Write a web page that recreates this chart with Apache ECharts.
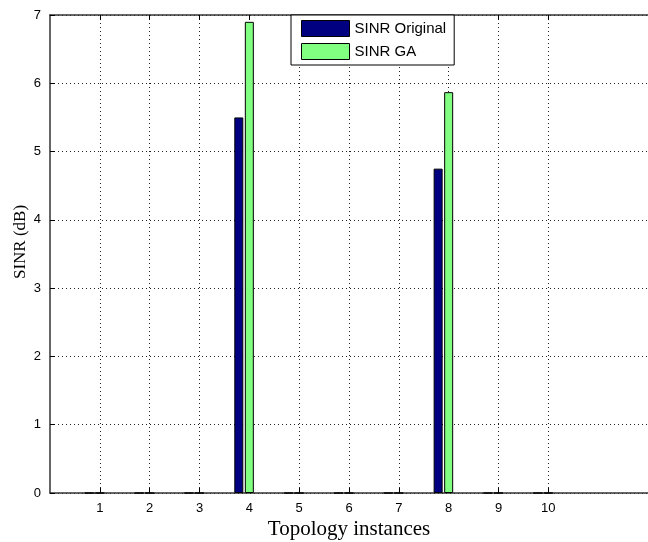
<!DOCTYPE html>
<html>
<head>
<meta charset="utf-8">
<title>SINR</title>
<script src="https://cdn.jsdelivr.net/npm/echarts@6/dist/echarts.min.js"></script>
<style>
  html, body { margin: 0; padding: 0; background: #fff; }
  #chart { width: 648px; height: 542px; }
</style>
</head>
<body>
<div id="chart"></div>
<script>
// data
const topology = [1, 2, 3, 4, 5, 6, 7, 8, 9, 10]
const sinrOriginal = [0, 0, 0, 5.5, 0, 0, 0, 4.75, 0, 0]
const sinrGA = [0, 0, 0, 6.9, 0, 0, 0, 5.87, 0, 0]
const yTicks = [0, 1, 2, 3, 4, 5, 6, 7]

const dotted = { type: [1, 3], color: '#222', width: 1 }
const tickFont = { fontFamily: 'Liberation Sans, Arial, sans-serif', fontSize: 13, color: '#000' }

function pairs(values) {
  return topology.map((t, i) => [t, values[i]])
}

function initChart() {
  const chartInstance = echarts.init(document.getElementById('chart'), null, { renderer: 'canvas' })
  const option = {
    animation: false,
    backgroundColor: '#fff',
    grid: { left: 50, right: 0, top: 15, bottom: 49 },
    legend: {
      data: ['SINR Original', 'SINR GA'],
      orient: 'vertical',
      left: 291,
      top: 15,
      padding: [5, 8, 5, 10],
      icon: 'rect',
      itemWidth: 48,
      itemHeight: 16,
      itemGap: 6,
      itemStyle: { borderColor: '#000', borderWidth: 1 },
      backgroundColor: '#fff',
      borderColor: '#000',
      borderWidth: 1,
      textStyle: { fontFamily: 'Liberation Sans, Arial, sans-serif', fontSize: 15, color: '#000' }
    },
    xAxis: [
      {
        type: 'value',
        position: 'bottom',
        min: 0,
        max: 12,
        interval: 1,
        axisLine: { show: true, lineStyle: { color: '#333', width: 1.5 } },
        axisTick: { show: true, inside: true, length: 5, customValues: topology, lineStyle: { color: '#000' } },
        axisLabel: Object.assign({ customValues: topology, margin: 9 }, tickFont),
        splitLine: { show: true, lineStyle: dotted }
      },
      {
        type: 'value',
        position: 'top',
        min: 0,
        max: 12,
        interval: 1,
        axisLine: { show: true, lineStyle: { color: '#333', width: 1.5 } },
        axisTick: { show: true, inside: true, length: 5, customValues: topology, lineStyle: { color: '#000' } },
        axisLabel: { show: false },
        splitLine: { show: false }
      }
    ],
    yAxis: {
      type: 'value',
      min: yTicks[0],
      max: yTicks[yTicks.length - 1],
      interval: 1,
      axisLine: { show: true, lineStyle: { color: '#333', width: 1.5 } },
      axisTick: { show: true, inside: true, length: 5, lineStyle: { color: '#000' } },
      axisLabel: Object.assign({ margin: 9 }, tickFont),
      splitLine: { show: true, lineStyle: dotted }
    },
    graphic: [
      {
        type: 'text',
        x: 12,
        y: 242,
        rotation: Math.PI / 2,
        style: {
          text: 'SINR (dB)',
          font: '17px "Liberation Serif", "Times New Roman", serif',
          fill: '#000',
          align: 'center',
          verticalAlign: 'top'
        }
      },
      {
        type: 'text',
        x: 349,
        y: 529,
        style: {
          text: 'Topology instances',
          font: '21px "Liberation Serif", "Times New Roman", serif',
          fill: '#000',
          align: 'center',
          verticalAlign: 'middle'
        }
      }
    ],
    series: [
      {
        name: 'SINR Original',
        type: 'bar',
        barWidth: 9,
        barGap: '17%',
        data: pairs(sinrOriginal),
        itemStyle: { color: '#000080', borderColor: '#000', borderWidth: 1 }
      },
      {
        name: 'SINR GA',
        type: 'bar',
        barWidth: 9,
        barGap: '17%',
        data: pairs(sinrGA),
        itemStyle: { color: '#80ff80', borderColor: '#000', borderWidth: 1 }
      },
      {
        // empty third slot of the group, keeps GA bar centred on its tick
        name: 'slot',
        type: 'bar',
        barWidth: 9,
        barGap: '17%',
        data: [],
        silent: true
      }
    ]
  }
  chartInstance.setOption(option)
}

initChart()
</script>
</body>
</html>
